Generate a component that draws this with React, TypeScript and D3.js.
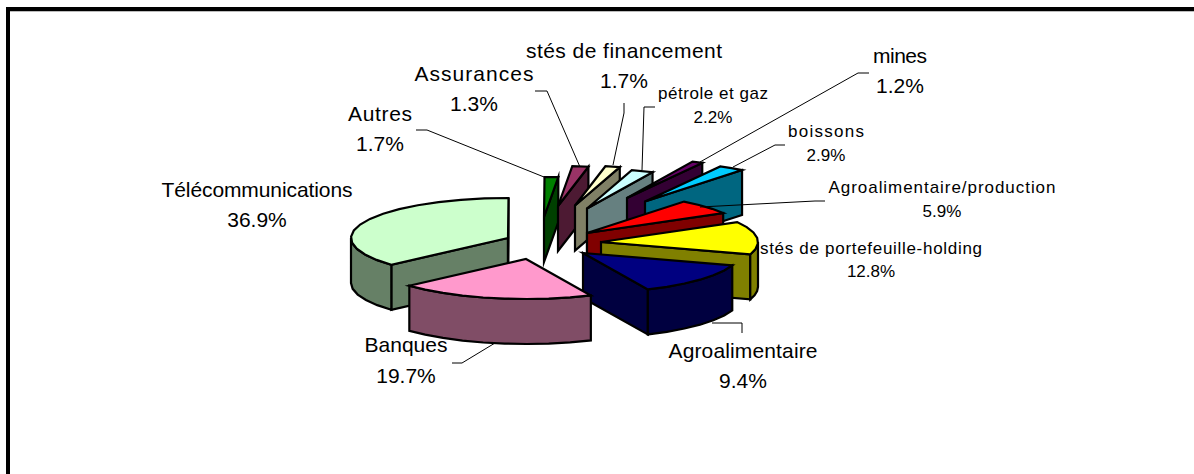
import React from "react";
import * as d3 from "d3";

// ---- data ----
const categories = ["Télécommunications","Autres","Assurances","stés de financement","pétrole et gaz","mines","boissons","Agroalimentaire/production","stés de portefeuille-holding","Agroalimentaire","Banques"];
const printedPercent = [36.9,1.7,1.3,1.7,2.2,1.2,2.9,5.9,12.8,9.4,19.7];
// slice sizes as they are actually drawn in the picture (the printed labels do not sum to 100)
const drawnShare = [36.7,1.4,1.65,1.5,2.25,1.1,2.65,6.1,13.3,13.2,20.1];

// ---- styling / layout ----
const topColors = ["#CCFFCC","#008000","#993366","#FFFFCC","#CCFFFF","#660066","#00CCFF","#FF0000","#FFFF00","#000080","#FF99CC"];
const sideColors = ["#668066","#004000","#4D1A33","#808066","#668080","#330033","#006680","#800000","#808000","#000040","#804D66"];
const explodeX = [-12,24,38,55,67,107,125,67,81,63,6];
const explodeY = [-2,-23,-34,-34.5,-31.5,-42,-38.5,-7,2,13,19];
const centerX = 520, centerY = 240, radiusX = 157, radiusY = 40, depth = 45;

const labelX = [257,380,474,624,713,900,826,942,871,743,406];
const labelY = [197,121,81,58,99,63,137,193,254,358,352];
const labelGap = [30,30,30,30,24,30,24,24,23,30,31];
const labelSize = [21,21,21,21,17,21,17,17,17,21,21];
const labelWidth = [191,64,119,196,110,54,76,227,222,149,83];
const leaders: ([number, number][] | null)[] = [
  null,
  [[416,130],[427,130],[544,177]],
  [[535,91],[547,91],[580,167]],
  [[624,103],[624,113],[613,165]],
  [[655,107],[644,107],[642,170]],
  [[869,73],[858,73],[700,162]],
  [[785,145],[775,145],[733,167]],
  [[825,201],[815,201],[700,207]],
  null,
  [[742,333],[742,323],[712,323]],
  [[452,363],[462,363],[495,343]],
];

const STEP = (9 * Math.PI) / 180;
const DEG90 = Math.PI / 2;
const sx = d3.scaleLinear().domain([-1, 1]).range([-radiusX, radiusX]);
const sy = d3.scaleLinear().domain([-1, 1]).range([-radiusY, radiusY]);
const line = d3.line();

function arcPoints(a0: number, a1: number, ax: number, ay: number): [number, number][] {
  const n = Math.max(1, Math.ceil((a1 - a0) / STEP));
  return d3.range(n + 1).map((i) => {
    const t = a0 + ((a1 - a0) * i) / n;
    return [ax + sx(Math.sin(t)), ay + sy(-Math.cos(t))] as [number, number];
  });
}

export default function App() {
  const arcs = d3.pie<number>().sort(null).startAngle(-(132 * Math.PI) / 180).endAngle((228 * Math.PI) / 180)(drawnShare);
  const stroke = { stroke: "#000", strokeWidth: 2.2, strokeLinejoin: "miter" as const, strokeMiterlimit: 6 };
  return (
    <svg width={1194} height={474} style={{ position: "absolute", left: 0, top: 0, background: "#fff" }} fontFamily="'Liberation Sans', Arial, sans-serif">
      <rect x={10} y={11} width={1184} height={1} fill="#bbb" />
      <rect x={6} y={7} width={1188} height={4} fill="#000" />
      <rect x={6} y={7} width={4} height={467} fill="#000" />
      {arcs.map((a, i) => {
        const ax = centerX + explodeX[i], ay = centerY + explodeY[i];
        const faces: { pts: [number, number][] }[] = [];
        const extrude = (pts: [number, number][]) => [...pts, ...pts.slice().reverse().map(([x, y]) => [x, y + depth] as [number, number])];
        if (Math.sin(a.startAngle) < -1e-6) {
          const p = arcPoints(a.startAngle, a.startAngle, ax, ay)[0];
          faces.push({ pts: extrude([p, [ax, ay]]) });
        }
        if (Math.sin(a.endAngle) > 1e-6) {
          const p = arcPoints(a.endAngle, a.endAngle, ax, ay)[0];
          faces.push({ pts: extrude([[ax, ay], p]) });
        }
        for (const off of [0, -2 * Math.PI]) {
          const lo = Math.max(a.startAngle, DEG90 + off);
          const hi = Math.min(a.endAngle, 3 * DEG90 + off);
          if (hi > lo) faces.push({ pts: extrude(arcPoints(lo, hi, ax, ay)) });
        }
        const top: [number, number][] = [[ax, ay], ...arcPoints(a.startAngle, a.endAngle, ax, ay)];
        return (
          <g key={categories[i]}>
            {faces.map((f, j) => (
              <path key={j} d={line(f.pts) + "Z"} fill={sideColors[i]} {...stroke} />
            ))}
            <path d={line(top) + "Z"} fill={topColors[i]} {...stroke} />
          </g>
        );
      })}
      {leaders.map((l, i) =>
        l ? <path key={i} d={line(l) ?? ""} fill="none" stroke="#000" strokeWidth={1} /> : null
      )}
      {categories.map((c, i) => (
        <g key={c} textAnchor="middle" fill="#000" fontSize={labelSize[i]}>
          <text x={labelX[i]} y={labelY[i]} textLength={labelWidth[i]} lengthAdjust="spacing">{c}</text>
          <text x={labelX[i]} y={labelY[i] + labelGap[i]}>{printedPercent[i].toFixed(1)}%</text>
        </g>
      ))}
    </svg>
  );
}
